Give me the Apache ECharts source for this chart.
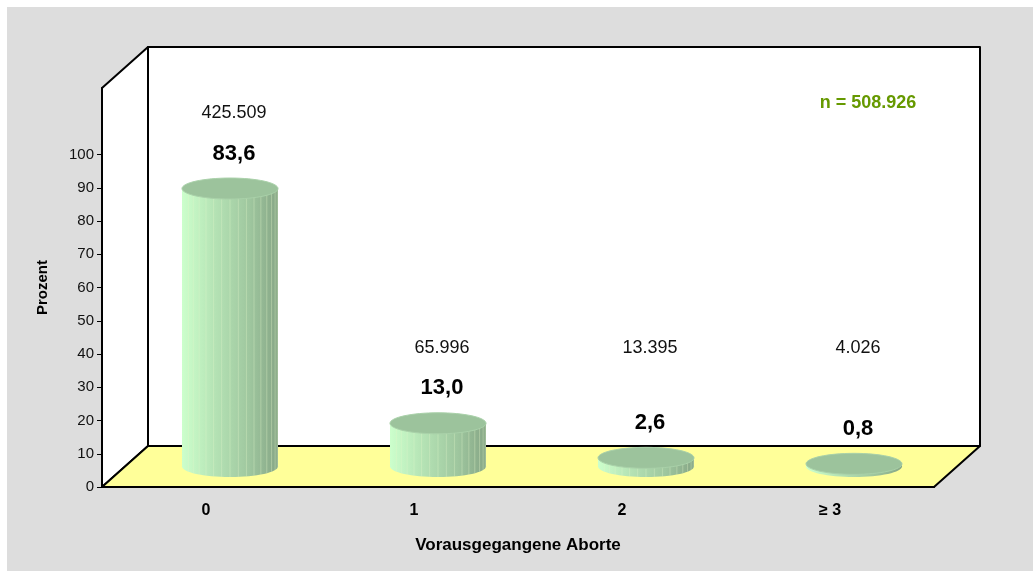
<!DOCTYPE html>
<html>
<head>
<meta charset="utf-8">
<title>Vorausgegangene Aborte</title>
<script src="https://cdn.jsdelivr.net/npm/echarts@6/dist/echarts.min.js"></script>
<style>
  html, body { margin: 0; padding: 0; background: #fff; }
  #chart { width: 1033px; height: 571px; }
</style>
</head>
<body>
<div id="chart"></div>
<script>
const categories = ['0', '1', '2', '≥ 3'];
const percents = [83.6, 13.0, 2.6, 0.8];
const counts = [425509, 65996, 13395, 4026];
const yTicks = [0, 10, 20, 30, 40, 50, 60, 70, 80, 90, 100];
const yMax = 120;
const totalLabel = 'n = 508.926';

const FONT = '"Liberation Sans", Arial, sans-serif';
// depth of the 3d box in px (back wall is up/right of the front plane)
const DX = 46, DY = -41;
// cylinder radii
const RX = 48, RY = 10.5;
// count labels never sit lower than this value
const countFloor = 13.0;

const chart = echarts.init(document.getElementById('chart'));

function fmtPct(v) { return v.toFixed(1).replace('.', ','); }
function fmtCount(v) { return String(v).replace(/\B(?=(\d{3})+(?!\d))/g, '.'); }

function renderFrame(params, api) {
  const bw = api.size([1, 0])[0];
  const x0 = api.coord([0, 0])[0] - bw / 2;
  const x1 = api.coord([categories.length - 1, 0])[0] + bw / 2;
  const y0 = api.coord([0, 0])[1];
  const yt = api.coord([0, yMax])[1];
  const line = { stroke: '#000', lineWidth: 2, lineJoin: 'round' };
  return {
    type: 'group',
    children: [
      { type: 'polygon',
        shape: { points: [[x0 + DX, yt + DY], [x1 + DX, yt + DY], [x1 + DX, y0 + DY], [x0 + DX, y0 + DY]] },
        style: Object.assign({ fill: '#fff' }, line) },
      { type: 'polygon',
        shape: { points: [[x0, yt], [x0 + DX, yt + DY], [x0 + DX, y0 + DY], [x0, y0]] },
        style: Object.assign({ fill: '#fff' }, line) },
      { type: 'polygon',
        shape: { points: [[x0, y0], [x1, y0], [x1 + DX, y0 + DY], [x0 + DX, y0 + DY]] },
        style: Object.assign({ fill: '#ffff99' }, line) }
    ]
  };
}

function renderBar(params, api) {
  const i = api.value(0), v = api.value(1);
  const base = api.coord([i, 0]);
  const top = api.coord([i, v]);
  const cx = base[0] + DX / 2 + 1;
  const yb = base[1] + DY / 2;
  const yt = top[1] + DY / 2;
  const body = new echarts.graphic.LinearGradient(0, 0, 1, 0, [
    { offset: 0, color: '#ccffcc' },
    { offset: 0.35, color: '#b4e2b4' },
    { offset: 0.7, color: '#9fc79f' },
    { offset: 1, color: '#86a686' }
  ]);
  const kids = [
    { type: 'ellipse', shape: { cx: cx, cy: yb, rx: RX, ry: RY }, style: { fill: body } },
    { type: 'rect', shape: { x: cx - RX, y: yt, width: 2 * RX, height: yb - yt }, style: { fill: body } }
  ];
  // facet lines like the excel cylinder
  if (yb - yt > 3) {
    for (let a = -60; a <= 80; a += 10) {
      const x = cx + RX * Math.sin(a * Math.PI / 180);
      kids.push({ type: 'line', shape: { x1: x, y1: yt, x2: x, y2: yb + RY * Math.cos(a * Math.PI / 180) },
        style: { stroke: 'rgba(225,245,200,0.35)', lineWidth: 1 } });
    }
  }
  kids.push({ type: 'ellipse', shape: { cx: cx, cy: yt, rx: RX, ry: RY },
    style: { fill: '#9cc39c', stroke: '#a9d1a9', lineWidth: 1 } });

  const lblX = cx + 4;
  kids.push({ type: 'text', x: lblX, y: yt - 35,
    style: { text: fmtPct(v), font: 'bold 22px ' + FONT, fill: '#000', align: 'center', verticalAlign: 'middle' } });
  const cy = Math.min(yt, api.coord([i, countFloor])[1] + DY / 2) - 75;
  kids.push({ type: 'text', x: lblX, y: cy,
    style: { text: fmtCount(counts[i]), font: '18px ' + FONT, fill: '#111', align: 'center', verticalAlign: 'middle' } });
  return { type: 'group', children: kids };
}

chart.setOption({
  backgroundColor: '#fff',
  animation: false,
  graphic: [
    { type: 'rect', left: 7, top: 7, z: -10, silent: true,
      shape: { width: 1026, height: 564 }, style: { fill: '#dddddd' } },
    { type: 'text', x: 868, y: 103, z: 10,
      style: { text: totalLabel, font: 'bold 18px ' + FONT, fill: '#669900', align: 'center', verticalAlign: 'middle' } }
  ],
  grid: { left: 102, top: 88, width: 832, height: 399 },
  xAxis: {
    type: 'category',
    data: categories,
    name: 'Vorausgegangene Aborte',
    nameLocation: 'middle',
    nameGap: 50,
    nameTextStyle: { fontFamily: FONT, fontWeight: 'bold', fontSize: 17, color: '#000' },
    axisLine: { lineStyle: { color: '#000', width: 2 } },
    axisTick: { length: 6, lineStyle: { color: '#000', width: 1 } },
    axisLabel: { margin: 16, fontFamily: FONT, fontWeight: 'bold', fontSize: 16, color: '#000' }
  },
  yAxis: {
    type: 'value',
    min: 0, max: yMax, interval: 10,
    name: 'Prozent',
    nameLocation: 'middle',
    nameRotate: 90,
    nameGap: 52,
    nameTextStyle: { fontFamily: FONT, fontWeight: 'bold', fontSize: 15, color: '#000' },
    axisLine: { show: true, lineStyle: { color: '#000', width: 2 } },
    axisTick: { show: true, length: 5, customValues: yTicks, lineStyle: { color: '#000' } },
    axisLabel: { margin: 8, customValues: yTicks, fontFamily: FONT, fontSize: 15, color: '#111' },
    splitLine: { show: false }
  },
  series: [
    { type: 'custom', name: 'frame', clip: false, z: 1, silent: true,
      renderItem: renderFrame, data: [[0, 0]] },
    { type: 'custom', name: 'Prozent', clip: false, z: 3,
      renderItem: renderBar, data: percents.map((p, i) => [i, p]) }
  ]
});
</script>
</body>
</html>
